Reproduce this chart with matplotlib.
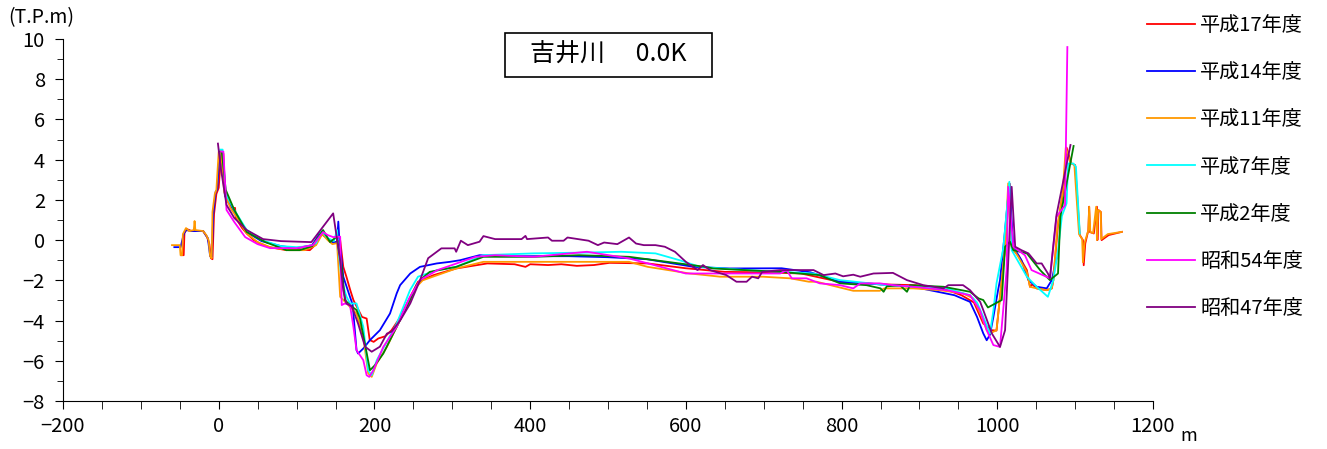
import matplotlib
matplotlib.use("Agg")
import matplotlib.pyplot as plt
from matplotlib.patches import Rectangle
from matplotlib.ticker import MultipleLocator

plt.rcParams["font.family"] = ["Noto Sans CJK JP", "DejaVu Sans"]

# cross-section profiles (distance m, elevation T.P.m)
h17 = [(-48, -0.75), (-45, -0.75), (-44, 0.35), (-41, 0.55), (-35, 0.45), (-30, 0.45), (-20, 0.45),
       (-15, 0.15), (-12, -0.2), (-10, -0.9), (-8, -0.95), (-6, 1.3), (-3, 2.3), (0, 2.6), (3, 4.3),
       (6, 4.3), (8, 2.5), (12, 1.9), (18, 1.6), (21, 1.6), (22, 1.1), (30, 0.6), (36, 0.33), (45, 0.0),
       (53, -0.17), (65, -0.35), (87, -0.5), (100, -0.45), (117, -0.5), (125, -0.2), (132, 0.3),
       (138, 0.15), (144, -0.1), (151, -0.1), (156, 0.0), (160, -1.33), (164, -1.82), (169, -2.49),
       (173, -2.98), (184, -3.82), (190, -3.9), (194, -4.97), (199, -5.06), (205, -4.89), (214, -4.78),
       (222, -4.48), (232, -3.9), (245, -2.9), (256, -2.07), (276, -1.74), (305, -1.41), (345, -1.16),
       (380, -1.2), (394, -1.33), (400, -1.2), (423, -1.24), (440, -1.2), (460, -1.28), (482, -1.24),
       (502, -1.13), (551, -1.16), (600, -1.4), (650, -1.58), (700, -1.6), (748, -1.66), (797, -2.07),
       (850, -2.2), (895, -2.24), (930, -2.4), (954, -2.74), (970, -3.1), (982, -4.15), (993, -4.48),
       (999, -4.5), (1003.5, -2.82), (1010, -0.41), (1016, 2.8), (1018.5, -0.41), (1027, -0.75),
       (1038, -1.49), (1042, -2.32), (1045, -2.2), (1050.6, -2.4), (1063.5, -2.49), (1070, -2.4),
       (1072, -1.99), (1078, 0.8), (1085, 2.5), (1089, 4.6), (1095, 3.81), (1100, 3.73), (1106, 0.25),
       (1110, 0.0), (1111, -1.25), (1113, -0.17), (1117, 0.5), (1118, 1.66), (1119, 0.4), (1124, 0.33),
       (1128, 1.66), (1128.6, 0.0), (1130, 1.49), (1133, 1.4), (1134, 0.0), (1143, 0.25), (1160, 0.41)]

h14 = [(-57, -0.35), (-49, -0.35), (-48, -0.2), (-45, 0.3), (-42, 0.5), (-35, 0.45), (-20, 0.45),
       (-14, 0.1), (-11, -0.8), (-9, -0.85), (-7, 1.3), (-4, 2.4), (-2, 2.5), (1, 4.3), (3, 4.3),
       (8, 2.2), (20, 1.4), (36, 0.4), (55, -0.05), (80, -0.3), (100, -0.4), (120, -0.25), (130, 0.35),
       (136, 0.2), (145, -0.1), (152, -0.1), (153.6, 0.92), (155, 0.0), (160, -1.82), (168.6, -2.82),
       (172, -3.2), (177, -5.47), (179, -5.64), (185.7, -5.39), (194.3, -4.97), (207, -4.48),
       (220, -3.65), (228.6, -2.65), (233, -2.24), (246, -1.66), (258.5, -1.33), (280, -1.16),
       (297, -1.08), (310, -1.0), (335, -0.75), (360, -0.8), (400, -0.8), (450, -0.8), (500, -0.85),
       (550, -0.95), (610, -1.33), (656, -1.41), (723, -1.4), (760, -1.6), (797, -2.07), (850, -2.2),
       (892, -2.32), (945, -2.74), (965, -3.07), (974, -3.82), (982, -4.64), (986.4, -4.98),
       (990.6, -4.7), (995, -3.82), (1001, -2.49), (1003.5, -1.99), (1010, 0.5), (1015.5, 2.82),
       (1020.6, -0.33), (1031, -1.0), (1040, -1.99), (1050.6, -2.32), (1063.5, -2.4), (1070, -1.99),
       (1076, -0.9)]

h11 = [(-60, -0.25), (-50, -0.25), (-49, -0.75), (-47, -0.75), (-46, 0.3), (-42, 0.6), (-38, 0.45),
       (-32, 0.5), (-31, 0.95), (-30, 0.5), (-20, 0.45), (-16, 0.25), (-13, 0.0), (-11, -0.8), (-9, -0.9),
       (-8, 1.4), (-5, 2.3), (-3, 2.5), (0, 4.4), (3, 4.4), (7, 2.4), (15, 1.6), (22, 1.2), (36, 0.33),
       (50, -0.1), (66, -0.35), (90, -0.5), (110, -0.5), (125, -0.25), (133, 0.3), (140, 0.0),
       (146, -0.2), (152, -0.15), (156, -2.82), (168.6, -3.32), (177, -3.65), (185.7, -4.81),
       (192, -6.63), (196.5, -6.8), (203, -6.13), (216, -5.31), (228.6, -4.31), (241.4, -3.32),
       (254, -2.32), (262, -2.0), (305, -1.41), (340, -1.08), (404, -1.08), (527, -1.08), (551, -1.33),
       (605, -1.66), (625, -1.74), (644, -1.82), (699, -1.82), (734, -1.9), (758, -2.07), (768, -2.07),
       (794, -2.32), (815, -2.52), (849, -2.52), (855, -2.4), (892, -2.4), (926, -2.49), (956, -2.65),
       (969, -2.9), (980, -3.8), (986.4, -4.48), (990.6, -4.64), (999, -4.48), (1003.5, -2.82),
       (1010, -0.41), (1014, 2.82), (1018, -0.3), (1027, -0.83), (1038, -1.6), (1042, -2.32),
       (1050.6, -2.4), (1063.5, -2.49), (1070, -2.4), (1072, -1.99), (1077, 0.6), (1084, 2.4),
       (1088, 4.6), (1094, 3.85), (1099, 3.73), (1105, 0.3), (1109, 0.05), (1110, -1.1), (1112, -0.15),
       (1117, 0.5), (1118, 1.66), (1119.5, 0.4), (1123, 0.35), (1127, 1.66), (1128, 0.0), (1129.5, 1.5),
       (1133, 1.4), (1133.5, 0.05), (1142, 0.3), (1160, 0.41)]

h7 = [(2, 4.5), (5, 4.5), (9, 2.3), (20, 1.5), (36, 0.5), (55, 0.0), (80, -0.3), (100, -0.35),
      (118, -0.3), (125, -0.15), (132, 0.45), (140, 0.1), (148, -0.05), (152, 0.5), (153, -0.2),
      (158, -2.0), (164, -2.8), (168.6, -3.15), (177, -3.15), (185.7, -4.31), (192, -6.47),
      (196.5, -6.72), (203, -5.97), (228.6, -4.15), (245.7, -2.49), (256, -1.82), (280, -1.5),
      (305, -1.33), (340, -0.75), (404, -0.66), (470, -0.62), (517, -0.58), (561, -0.66), (592, -1.0),
      (618, -1.33), (678, -1.49), (764, -1.66), (798, -1.99), (858, -2.24), (935, -2.4), (965, -2.74),
      (974, -3.1), (982, -3.82), (990.6, -4.64), (995, -3.5), (999, -2.15), (1007.7, -0.41),
      (1015.5, 2.9), (1018.5, -0.5), (1038, -1.82), (1050.6, -2.32), (1065, -2.82), (1072, -1.99),
      (1078, -0.5), (1083, 1.2), (1089, 1.83), (1091, 3.81), (1097.6, 3.81), (1101, 3.65), (1106, 0.33)]

h2 = [(1, 4.4), (4, 4.4), (9, 2.5), (20, 1.5), (36, 0.4), (60, -0.1), (87, -0.5), (104, -0.5),
      (120, -0.3), (134, 0.5), (143, -0.1), (151.5, 0.17), (158, -1.33), (162, -2.98), (168.6, -3.23),
      (177, -3.48), (181.5, -3.9), (194.3, -6.47), (200.7, -6.22), (211.4, -5.64), (228.6, -4.31),
      (245.7, -2.98), (254, -2.24), (261, -1.91), (271, -1.58), (305, -1.33), (340, -0.83),
      (404, -0.83), (463, -0.75), (527, -0.83), (576, -1.08), (625, -1.33), (635, -1.41), (721, -1.58),
      (772, -1.74), (798, -2.15), (832, -2.24), (850, -2.4), (854, -2.57), (858, -2.3), (875, -2.24),
      (884, -2.57), (888, -2.24), (931, -2.32), (965, -2.57), (976, -2.9), (982, -2.98), (988, -3.35),
      (1005.7, -2.98), (1010, -0.33), (1016.3, -0.08), (1020.6, -0.5), (1038, -0.66), (1055, -1.49),
      (1067.6, -1.99), (1078, -1.66), (1081, 1.16), (1098, 4.68)]

s54 = [(3, 4.4), (6, 4.4), (10, 1.5), (20, 0.9), (34, 0.15), (50, -0.2), (66, -0.4), (100, -0.4),
       (121, -0.25), (134, 0.4), (140, 0.25), (147, 0.15), (156, 0.17), (158, -3.23), (162, -3.15),
       (168.6, -3.23), (173, -4.31), (177, -5.47), (185.7, -5.97), (190, -6.72), (193.4, -6.8),
       (198.6, -6.47), (211.4, -5.31), (228.6, -4.31), (245.7, -2.82), (258.5, -1.99), (281, -1.49),
       (330, -0.83), (355, -0.75), (404, -0.83), (473, -0.58), (527, -0.91), (600, -1.66), (627, -1.66),
       (721, -1.66), (729.5, -1.49), (736, -1.9), (755, -1.9), (772, -2.15), (798, -2.24), (815, -2.4),
       (824, -2.15), (849, -2.15), (866, -2.24), (892, -2.32), (935, -2.49), (965, -2.74),
       (977.6, -3.48), (986.4, -4.48), (995, -5.22), (1003.5, -5.31), (1012, -1.49), (1014, 2.65),
       (1020.6, -0.33), (1035.5, -0.75), (1044, -1.49), (1067.6, -1.9), (1076, 1.16), (1087, 1.74),
       (1090, 9.6)]

s47 = [(-1, 4.8), (3, 3.5), (10, 1.75), (20, 1.1), (36, 0.5), (57, 0.05), (80, -0.05), (119, -0.1),
       (147, 1.33), (156, -1.0), (160, -2.5), (164, -3.15), (171, -3.3), (179, -4.15), (188, -5.3),
       (196.5, -5.55), (207, -5.3), (216, -4.65), (222, -4.55), (233, -4.0), (246, -3.15), (258.5, -2.0),
       (269, -0.9), (286, -0.41), (303, -0.41), (305, -0.58), (311, -0.03), (320, -0.25), (335, -0.08),
       (340, 0.2), (355, 0.05), (389, 0.05), (394, 0.21), (396, 0.05), (423, 0.13), (428, -0.03),
       (443, -0.03), (448, 0.13), (475, -0.03), (487, -0.25), (495, -0.12), (512, -0.2), (527, 0.13),
       (536, -0.17), (546, -0.25), (561, -0.25), (573, -0.33), (586, -0.58), (600, -1.08), (615, -1.49),
       (622, -1.24), (631, -1.49), (652, -1.74), (665, -2.07), (678, -2.07), (685, -1.82), (693, -1.9),
       (698, -1.58), (721, -1.49), (764, -1.49), (777, -1.74), (792, -1.66), (802, -1.8), (815, -1.72),
       (824, -1.82), (841, -1.66), (866, -1.63), (884, -1.99), (905, -2.24), (918, -2.32), (931, -2.4),
       (937, -2.24), (956, -2.24), (965, -2.49), (978, -3.07), (982, -3.48), (993, -4.64),
       (1003.5, -5.31), (1010, -4.48), (1018.5, 2.65), (1023, -0.33), (1031, -0.5), (1040, -0.66),
       (1050.6, -1.16), (1057, -1.16), (1065, -1.66), (1067.6, -1.9), (1076, 1.24), (1094, 4.73)]

labels = ["平成17年度", "平成14年度", "平成11年度", "平成7年度", "平成2年度", "昭和54年度", "昭和47年度"]
colors = ["#ff0000", "#0000ff", "#ff9900", "#00ffff", "#008000", "#ff00ff", "#800080"]
series = [h17, h14, h11, h7, h2, s54, s47]

fig = plt.figure(figsize=(13.27, 4.49), dpi=100)
ax = fig.add_axes([63 / 1327, 48 / 449, 1090 / 1327, 362 / 449])

for pts, lab, c in zip(series, labels, colors):
    xs = [p[0] for p in pts]
    ys = [p[1] for p in pts]
    ax.plot(xs, ys, color=c, lw=1.3, label=lab)

ax.set_xlim(-200, 1200)
ax.set_ylim(-8, 10)
ax.xaxis.set_major_locator(MultipleLocator(200))
ax.xaxis.set_minor_locator(MultipleLocator(50))
ax.yaxis.set_major_locator(MultipleLocator(2))
ax.yaxis.set_minor_locator(MultipleLocator(1))
ax.spines["top"].set_visible(False)
ax.spines["right"].set_visible(False)
ax.tick_params(axis="both", which="major", length=6, labelsize=14.5, direction="out")
ax.tick_params(axis="both", which="minor", length=4, direction="out")
ax.tick_params(axis="x", which="minor", length=6)
ax.tick_params(axis="x", pad=5)
ax.tick_params(axis="y", pad=7)

ax.legend(loc="upper left", bbox_to_anchor=(1147 / 1327, 1 - 15 / 449), bbox_transform=fig.transFigure,
          frameon=False, fontsize=14.5, handlelength=2.4, handletextpad=0.25, labelspacing=1.3,
          borderpad=0, borderaxespad=0)

fig.text(8 / 1327, 1 - 18 / 449, "(T.P.m)", fontsize=14, ha="left", va="center")
fig.text(1180 / 1327, 1 - 436 / 449, "m", fontsize=13, ha="left", va="center")

fig.patches.append(Rectangle((505 / 1327, 1 - 77 / 449), 207 / 1327, 44 / 449, transform=fig.transFigure,
                             fill=False, edgecolor="black", lw=1.2))
fig.text(608 / 1327, 1 - 55 / 449, "吉井川　 0.0K", fontsize=18, ha="center", va="center")

fig.savefig("out.png", dpi=100)
